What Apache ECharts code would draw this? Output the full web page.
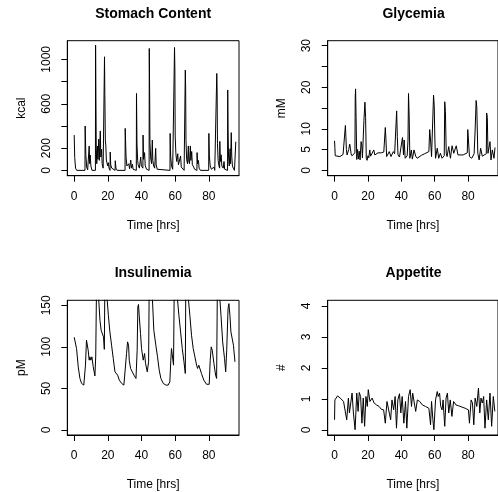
<!DOCTYPE html>
<html>
<head>
<meta charset="utf-8">
<script src="https://cdn.jsdelivr.net/npm/echarts@6.0.0/dist/echarts.min.js"></script>
<style>
html, body { margin: 0; padding: 0; background: #fff; }
#main { width: 498px; height: 492px; }
</style>
</head>
<body>
<div id="main"></div>
<script>
// ---- data (time in hours) ----
var xTicks = [0, 20, 40, 60, 80];

var stomachT = [0, 0.3, 0.8, 1.5,
    6.4, 6.5, 6.9, 7.4, 8.0, 8.8, 8.9, 9.2, 9.5, 9.9, 10.6,
    12.6, 12.7, 12.9, 13.1, 13.4, 13.8, 14.1, 14.6, 14.9, 15.5, 15.8, 16.3, 16.6, 17.2, 17.9,
    18.0, 18.2, 18.5, 18.8, 19.1, 19.5, 19.9, 20.3, 20.7, 21.3, 21.4, 21.7, 22.3, 22.8, 24.3, 24.4, 24.8, 25.5,
    30.2, 30.3, 30.5, 30.8, 31.3, 31.6, 32.4, 32.9, 33.6, 34.0, 34.6, 35.0, 35.5,
    36.9, 37.0, 37.3, 37.7, 38.0, 38.7, 39.5, 39.9, 40.8, 40.9, 41.2, 41.8, 42.2, 43.0, 44.5,
    44.6, 44.8, 45.0, 45.5, 46.0, 46.4, 46.7, 47.2, 47.8, 48.4, 48.7, 49.3, 50.0,
    56.9, 57.0, 57.3, 57.8, 58.5, 59.5,
    59.6, 59.8, 60.0, 60.4, 60.9, 61.5, 61.9, 62.6, 63.2, 63.6, 64.3, 65.3,
    65.9, 66.0, 66.2, 66.4, 66.8, 67.3, 67.8, 68.1, 68.5, 69.0, 69.3, 69.8, 70.2, 71.0, 71.5, 72.9, 73.0, 73.3, 73.8, 74.2, 75.0,
    79.9, 80.0, 80.3, 80.8, 81.5, 82.2, 83.0, 83.5,
    84.6, 84.7, 84.9, 85.1, 85.5, 86.0, 86.4, 86.5, 86.8, 87.3, 87.7, 88.5, 89.0, 89.4, 91.1,
    91.2, 91.4, 91.7, 92.1, 92.6, 92.9, 93.3, 93.6, 94.0, 94.5, 95.2, 95.9, 96.0];
var stomachKcal = [318, 117, 20, 0,
    0, 400, 144, 30, 5, 0, 219, 60, 138, 40, 0,
    0, 1128, 654, 200, 60, 219, 100, 282, 90, 355, 120, 190, 60, 20, 10,
    1023, 684, 273, 220, 93, 78, 40, 69, 20, 0, 165, 50, 20, 5, 0, 87, 20, 0,
    0, 378, 363, 120, 40, 30, 60, 15, 93, 20, 55, 10, 0,
    0, 693, 237, 90, 50, 20, 120, 40, 20, 318, 100, 160, 40, 10, 0,
    1098, 738, 250, 100, 60, 273, 90, 40, 20, 198, 50, 10, 0,
    0, 333, 130, 40, 10, 0,
    1107, 918, 309, 150, 80, 150, 50, 40, 130, 30, 20, 0,
    0, 903, 753, 270, 100, 60, 220, 80, 60, 220, 90, 170, 50, 30, 10, 0, 160, 60, 90, 20, 0,
    0, 333, 130, 40, 10, 0, 30, 0,
    0, 873, 723, 243, 90, 40, 20, 261, 80, 140, 40, 20, 80, 10, 0,
    724, 363, 120, 40, 195, 60, 340, 130, 40, 20, 0, 0, 258];

var glyT = [0, 0.2, 0.4, 1.2, 3.2, 5.1, 6.1, 6.5, 6.8, 7.1, 7.5, 8.0, 8.5, 9.1, 9.5, 9.9, 10.4, 11.0, 11.5, 12.2,
    12.4, 12.6, 12.9, 13.3, 13.8, 14.3, 14.8, 15.3, 15.9, 16.3, 16.7, 17.2, 17.6, 18.2, 18.6, 19.0, 19.5, 20.0,
    20.5, 21.1, 21.6, 22.5, 23.5, 24.1, 25.0, 26.0, 28.0, 29.5, 30.4, 30.8, 31.2, 31.7, 32.8, 33.8, 34.6, 35.2,
    36.0, 37.0, 37.2, 37.6, 38.0, 38.9, 39.5, 40.7, 41.3, 41.7, 42.3, 43.5, 44.0, 44.3, 44.7, 45.1, 46.0, 46.6,
    47.6, 48.6, 49.5, 50.5, 52.0, 54.0, 56.5, 57.0, 57.5, 58.1, 59.0, 59.3, 59.7, 60.1, 60.5, 61.5, 62.4, 63.4,
    64.4, 65.7, 66.0, 66.4, 66.9, 67.4, 68.4, 69.4, 70.4, 71.4, 72.9, 73.9, 75.0, 77.0, 79.5, 79.8, 80.2, 80.8,
    82.2, 83.6, 84.2, 84.8, 85.2, 85.8, 86.6, 87.5, 88.5, 89.5, 90.9, 91.1, 91.5, 91.9, 93.1, 93.7, 94.5, 95.5, 96.1];
var glyMM = [7.1, 5.5, 3.5, 3.2, 3.3, 3.8, 4.1, 10.8, 8.1, 5.0, 3.7, 3.4, 5.0, 6.3, 5.3, 4.0, 3.5, 3.7, 3.9, 4.2,
    17.6, 19.6, 12.7, 2.6, 5.0, 2.7, 4.6, 2.5, 6.9, 6.1, 3.0, 2.7, 12.0, 16.4, 12.7, 2.9, 2.4, 3.5,
    3.0, 4.9, 3.4, 3.7, 4.9, 3.7, 4.0, 4.2, 4.2, 4.4, 10.3, 7.3, 3.3, 3.5, 4.5, 3.3, 3.4, 4.5,
    4.0, 4.2, 14.3, 8.1, 3.7, 3.2, 3.0, 7.9, 3.7, 7.3, 2.9, 3.5, 7.3, 18.5, 12.8, 2.9, 4.9, 2.7,
    4.9, 3.4, 2.9, 3.2, 3.6, 4.0, 4.5, 9.8, 7.3, 3.3, 3.5, 18.1, 15.6, 7.3, 2.9, 5.3, 2.9, 4.1,
    2.9, 3.5, 16.5, 14.2, 4.1, 3.3, 5.7, 2.9, 5.9, 4.1, 5.9, 3.7, 3.7, 3.7, 4.2, 9.8, 7.3, 3.3,
    2.9, 4.0, 9.7, 16.8, 15.2, 4.1, 2.5, 5.3, 3.4, 3.5, 4.0, 13.8, 12.7, 4.1, 6.9, 2.5, 4.9, 2.9, 5.5];

var insT = [0, 0.6, 1.4, 2.4, 3.4, 4.4, 5.7, 6.3, 6.7, 7.3, 7.7, 8.3, 8.9, 9.3, 9.9, 10.5, 11.3, 12.3, 12.8,
    13.4, 14.0, 14.6, 15.3, 16.0, 16.7, 17.4, 17.9, 18.3, 18.9, 19.6, 20.3, 21.2, 22.2, 23.2, 24.2, 25.2, 25.8,
    26.8, 28.2, 29.5, 30.5, 31.1, 31.7, 32.3, 32.7, 33.5, 34.5, 35.5, 36.7, 37.4, 37.8, 38.2, 38.6, 39.4, 40.0,
    41.0, 41.8, 42.4, 43.4, 44.2, 44.7, 45.5, 46.5, 47.3, 48.5, 49.5, 50.5, 51.5, 52.9, 54.5, 55.8, 56.8, 57.4,
    57.8, 58.4, 59.0, 59.6, 60.5, 61.4, 62.2, 63.2, 64.2, 65.2, 66.0, 66.4, 67.2, 67.9, 68.7, 69.7, 70.7, 71.7,
    72.7, 73.3, 74.0, 74.6, 75.6, 77.0, 78.6, 80.2, 80.8, 81.4, 82.0, 83.0, 84.0, 84.6, 85.2, 86.0, 86.6, 87.2,
    88.2, 89.3, 90.0, 90.6, 91.4, 91.9, 92.5, 93.1, 93.9, 94.6, 95.5];
var insPM = [111.6, 113, 98, 76, 62, 56, 54, 55, 78, 108, 110, 96, 84, 88, 84, 88, 76, 65, 89,
    200, 190, 156, 132, 120, 118, 112, 97, 200, 180, 156, 138, 118, 102, 86, 70, 68, 66,
    60, 56, 54, 54, 92, 106, 102, 84, 74, 72, 66, 62, 96, 148, 151, 138, 116, 98,
    84, 92, 80, 70, 82, 210, 200, 156, 120, 102, 88, 72, 62, 56, 54, 54, 58, 84,
    98, 100, 78, 210, 190, 156, 138, 118, 98, 82, 68, 210, 180, 156, 138, 114, 98, 88,
    78, 74, 78, 76, 68, 60, 55, 55, 84, 100, 96, 80, 66, 62, 210, 190, 156, 138,
    106, 86, 70, 96, 146, 152, 138, 118, 116, 102, 82];

var appT = [0, 0.2, 1.8, 3.4, 5.4, 6.5, 7.3, 8.3, 8.9, 9.7, 10.5, 11.3, 12.3, 13.3, 14.1, 14.8, 15.6, 16.4,
    17.2, 18.0, 18.8, 19.6, 20.2, 21.2, 22.5, 23.7, 25.1, 26.7, 28.0, 29.4, 30.4, 31.4, 32.4, 33.6, 34.4,
    35.4, 36.3, 37.1, 37.9, 38.9, 39.7, 40.5, 41.5, 42.5, 43.3, 44.3, 45.3, 46.1, 46.8, 47.6, 48.6, 49.6,
    51.0, 52.6, 54.5, 56.5, 57.5, 58.1, 58.9, 59.5, 60.5, 61.5, 62.1, 62.9, 63.6, 64.4, 65.0, 66.0, 66.8,
    67.6, 68.4, 69.3, 70.3, 71.3, 72.7, 74.3, 76.3, 78.3, 80.2, 80.8, 81.8, 82.6, 83.4, 84.2, 85.2, 86.2,
    87.0, 87.7, 88.5, 89.3, 90.1, 91.1, 92.1, 93.1, 94.1, 95.1, 96.0];
var appVal = [0.33, 0.97, 1.1, 1.03, 0.92, 0.87, 0.33, 1.03, 0.55, 0.87, 1.19, 0.55, 0.01, 1.19, 0.6, 1.21,
    1.08, 0.22, 1.03, 0.12, 1.08, 0.76, 1.3, 0.92, 1.03, 0.87, 0.81, 0.76, 0.67, 0.65, 0.22, 0.92, 0.87,
    0.33, 0.97, 0.65, 1.08, 0.06, 0.97, 1.17, 0.55, 1.08, 0.22, 0.92, 0.06, 1.08, 1.3, 0.76, 1.19, 1.19,
    0.6, 0.97, 0.92, 0.81, 0.76, 0.7, 0.17, 0.92, 0.33, 0.01, 0.97, 1.24, 1.08, 1.19, 0.76, 0.65, 0.97,
    0.12, 1.03, 1.19, 0.55, 0.97, 0.44, 0.92, 0.81, 0.78, 0.74, 0.7, 0.65, 0.22, 0.97, 0.87, 0.17, 1.03,
    0.76, 1.35, 0.55, 1.03, 0.87, 1.08, 0.06, 0.97, 0.33, 1.19, 0.12, 1.08, 0.6];

// ---- layout ----
var FONT = '"Liberation Sans", Arial, Helvetica, sans-serif';
var X_MIN = -4.1, X_MAX = 97.9;
var PW = 171.7, PH = 135;

var panels = [
    { title: 'Stomach Content', unit: 'kcal', t: stomachT, v: stomachKcal, left: 67.3, top: 40.7,
      yMin: -48, yMax: 1168, yTicks: [0, 200, 400, 600, 800, 1000], yLabels: [0, 200, 600, 1000] },
    { title: 'Glycemia', unit: 'mM', t: glyT, v: glyMM, left: 327.7, top: 40.7,
      yMin: -1.3, yMax: 31.2, yTicks: [0, 5, 10, 15, 20, 25, 30], yLabels: [0, 5, 10, 20, 30] },
    { title: 'Insulinemia', unit: 'pM', t: insT, v: insPM, left: 67.3, top: 300.3,
      yMin: -6, yMax: 156, yTicks: [0, 50, 100, 150], yLabels: [0, 50, 100, 150] },
    { title: 'Appetite', unit: '#', t: appT, v: appVal, left: 327.7, top: 300.3,
      yMin: -0.16, yMax: 4.18, yTicks: [0, 1, 2, 3, 4], yLabels: [0, 1, 2, 3, 4] }
];

var myChart = echarts.init(document.getElementById('main'));

var txt = { fontFamily: FONT, fontSize: 12, color: '#000' };
var plain = function (v) { return String(v); };

var option = {
    animation: false,
    backgroundColor: '#fff',
    title: panels.map(function (p) {
        return { text: p.title, left: p.left + PW / 2, top: p.top - 34, textAlign: 'center', padding: 0,
                 textStyle: { fontFamily: FONT, fontSize: 14, fontWeight: 'bold', color: '#000' } };
    }),
    grid: panels.map(function (p) {
        return { left: p.left, top: p.top, width: PW, height: PH, show: true,
                 borderColor: '#000', borderWidth: 1, backgroundColor: 'transparent' };
    }),
    xAxis: panels.map(function (p, i) {
        return {
            type: 'value', gridIndex: i, min: X_MIN, max: X_MAX,
            name: 'Time [hrs]', nameLocation: 'middle', nameGap: 44, nameTextStyle: txt,
            axisLine: { show: true, onZero: false, lineStyle: { color: '#000', width: 1 } },
            axisTick: { show: true, length: 6, customValues: xTicks, lineStyle: { color: '#000' } },
            axisLabel: Object.assign({ customValues: xTicks, margin: 15, formatter: plain }, txt),
            splitLine: { show: false }
        };
    }),
    yAxis: panels.map(function (p, i) {
        return {
            type: 'value', gridIndex: i, min: p.yMin, max: p.yMax,
            name: p.unit, nameLocation: 'middle', nameGap: 40, nameRotate: 90, nameTextStyle: txt,
            axisLine: { show: true, onZero: false, lineStyle: { color: '#000', width: 1 } },
            axisTick: { show: true, length: 6, customValues: p.yTicks, lineStyle: { color: '#000' } },
            axisLabel: Object.assign({ customValues: p.yLabels, rotate: 90, margin: 15, formatter: plain }, txt),
            splitLine: { show: false }
        };
    }),
    series: panels.map(function (p, i) {
        return {
            type: 'line', xAxisIndex: i, yAxisIndex: i,
            data: p.t.map(function (t, k) { return [t, p.v[k]]; }),
            showSymbol: false, symbol: 'none', clip: true,
            lineStyle: { color: '#000', width: 1 }
        };
    })
};

myChart.setOption(option);
</script>
</body>
</html>
